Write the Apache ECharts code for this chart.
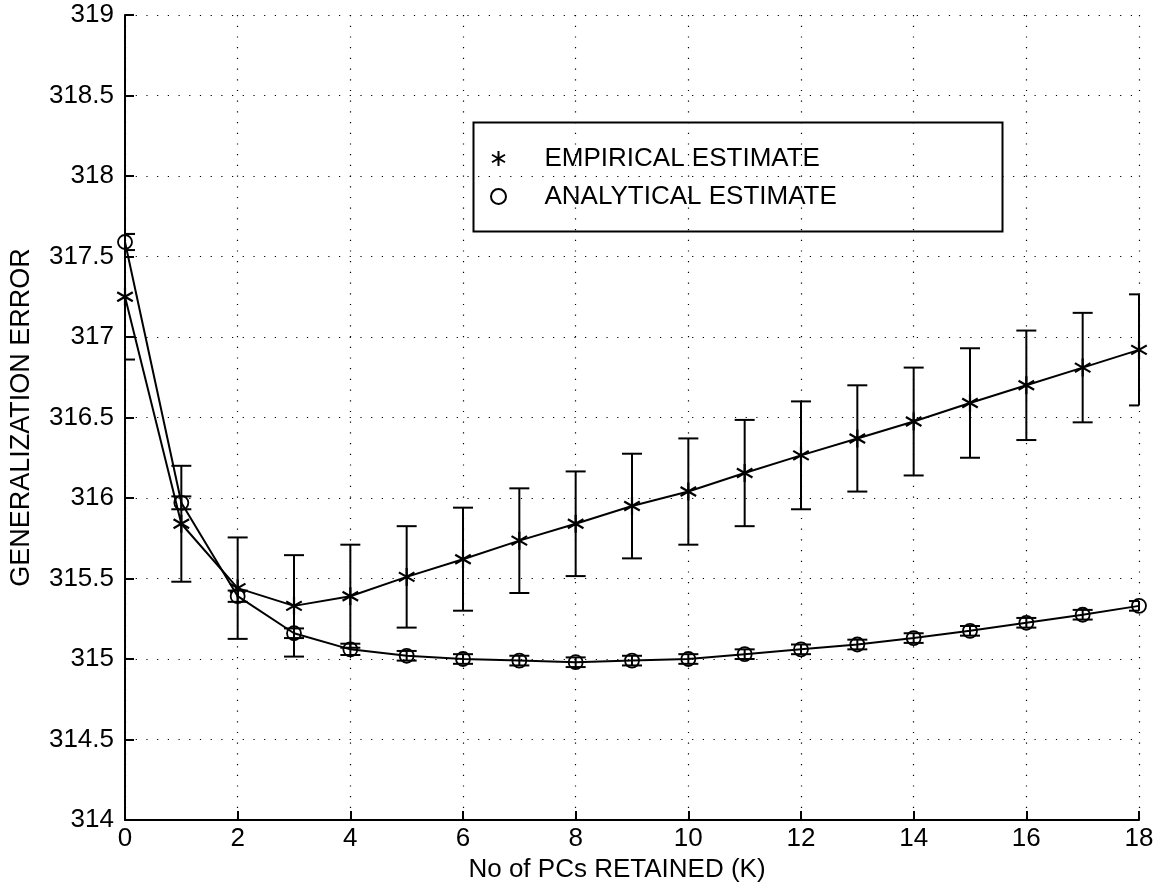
<!DOCTYPE html>
<html>
<head>
<meta charset="utf-8">
<script src="https://cdn.jsdelivr.net/npm/echarts@6/dist/echarts.min.js"></script>
<style>
html,body{margin:0;padding:0;background:#fff;}
#chart{width:1163px;height:892px;}
</style>
</head>
<body>
<div id="chart"></div>
<script>
// ---- data ----
var ks = [0,1,2,3,4,5,6,7,8,9,10,11,12,13,14,15,16,17,18];
var empirical = [317.25,315.84,315.44,315.33,315.39,315.51,315.62,315.735,315.84,315.95,316.04,316.155,316.265,316.37,316.475,316.59,316.70,316.81,316.92];
var empiricalErr = [0.39,0.36,0.315,0.315,0.32,0.315,0.32,0.325,0.325,0.325,0.33,0.33,0.335,0.33,0.335,0.34,0.34,0.34,0.345];
var analytical = [317.59,315.97,315.39,315.16,315.06,315.02,315.00,314.99,314.98,314.99,315.00,315.03,315.06,315.09,315.13,315.175,315.225,315.275,315.33];
var analyticalErr = [0.05,0.04,0.035,0.03,0.035,0.03,0.03,0.03,0.03,0.03,0.03,0.03,0.03,0.03,0.03,0.03,0.03,0.03,0.03];
var seriesNames = ['EMPIRICAL ESTIMATE','ANALYTICAL ESTIMATE'];
var xTitle = 'No of PCs RETAINED (K)';
var yTitle = 'GENERALIZATION ERROR';

var FONT = 'Liberation Sans, Arial, Helvetica, sans-serif';
var STAR = 'path://M50 0 L50 100 M6.7 25 L93.3 75 M6.7 75 L93.3 25';

function pairs(xs, ys){ return xs.map(function(x,i){ return [x, ys[i]]; }); }
function errData(xs, ys, es){ return xs.map(function(x,i){ return [x, ys[i]-es[i], ys[i]+es[i]]; }); }

function errRender(params, api){
  var cs = params.coordSys;
  var x = api.value(0);
  var lo = api.coord([x, api.value(1)]);
  var hi = api.coord([x, api.value(2)]);
  var half = 10;
  var x0 = Math.max(cs.x, lo[0]-half), x1 = Math.min(cs.x+cs.width, lo[0]+half);
  var st = {stroke:'#000', lineWidth:2, fill:null};
  return {type:'group', children:[
    {type:'line', shape:{x1:lo[0],y1:lo[1],x2:hi[0],y2:hi[1]}, style:st},
    {type:'line', shape:{x1:x0,y1:lo[1],x2:x1,y2:lo[1]}, style:st},
    {type:'line', shape:{x1:x0,y1:hi[1],x2:x1,y2:hi[1]}, style:st}
  ]};
}

var chart = echarts.init(document.getElementById('chart'), null, {renderer:'canvas'});
var dotted = {color:'#000', width:1.2, type:[1.2,9.5]};
chart.setOption({
  backgroundColor:'#fff',
  animation:false,
  textStyle:{fontFamily:FONT, color:'#000'},
  grid:{left:117, right:24, top:15, bottom:72, containLabel:false},
  xAxis:{
    type:'value', min:0, max:18, interval:2,
    name:xTitle, nameLocation:'middle', nameGap:37,
    nameTextStyle:{fontFamily:FONT, fontSize:26, color:'#000', padding:[0,30,0,0]},
    axisLine:{show:true, onZero:false, lineStyle:{color:'#000', width:2}},
    axisTick:{show:true, inside:true, length:9, lineStyle:{color:'#000', width:2}},
    axisLabel:{fontFamily:FONT, fontSize:26, color:'#000', margin:6},
    splitLine:{show:true, lineStyle:dotted}
  },
  yAxis:{
    type:'value', min:314, max:319, interval:0.5,
    name:yTitle, nameLocation:'middle', nameGap:90, nameRotate:90,
    nameTextStyle:{fontFamily:FONT, fontSize:27, color:'#000'},
    axisLine:{show:true, onZero:false, lineStyle:{color:'#000', width:2}},
    axisTick:{show:true, inside:true, length:9, lineStyle:{color:'#000', width:2}},
    axisLabel:{fontFamily:FONT, fontSize:26, color:'#000', margin:11,
      formatter:function(v){ return String(+v.toFixed(1)); }},
    splitLine:{show:true, lineStyle:dotted}
  },
  legend:{
    left:490, top:145.5, orient:'vertical', padding:0, itemGap:12,
    itemWidth:82, itemHeight:15,
    textStyle:{fontFamily:FONT, fontSize:26, color:'#000', lineHeight:25},
    data:[
      {name:seriesNames[0], icon:STAR},
      {name:seriesNames[1], icon:'circle'}
    ]
  },
  graphic:[{
    type:'rect', left:471, top:120, z:100,
    shape:{width:529, height:109},
    style:{fill:null, stroke:'#000', lineWidth:2}
  }],
  series:[
    {type:'custom', name:'empErr', renderItem:errRender, data:errData(ks, empirical, empiricalErr), z:2, silent:true},
    {type:'custom', name:'anaErr', renderItem:errRender, data:errData(ks, analytical, analyticalErr), z:2, silent:true},
    {type:'line', name:seriesNames[0], data:pairs(ks, empirical), z:3,
      symbol:STAR, symbolSize:18, symbolKeepAspect:true,
      itemStyle:{color:'#000', borderColor:'#000', borderWidth:2.2},
      lineStyle:{color:'#000', width:2}},
    {type:'line', name:seriesNames[1], data:pairs(ks, analytical), z:3,
      symbol:'circle', symbolSize:14,
      itemStyle:{color:'rgba(0,0,0,0)', borderColor:'#000', borderWidth:1.8},
      lineStyle:{color:'#000', width:2}}
  ]
});
</script>
</body>
</html>
